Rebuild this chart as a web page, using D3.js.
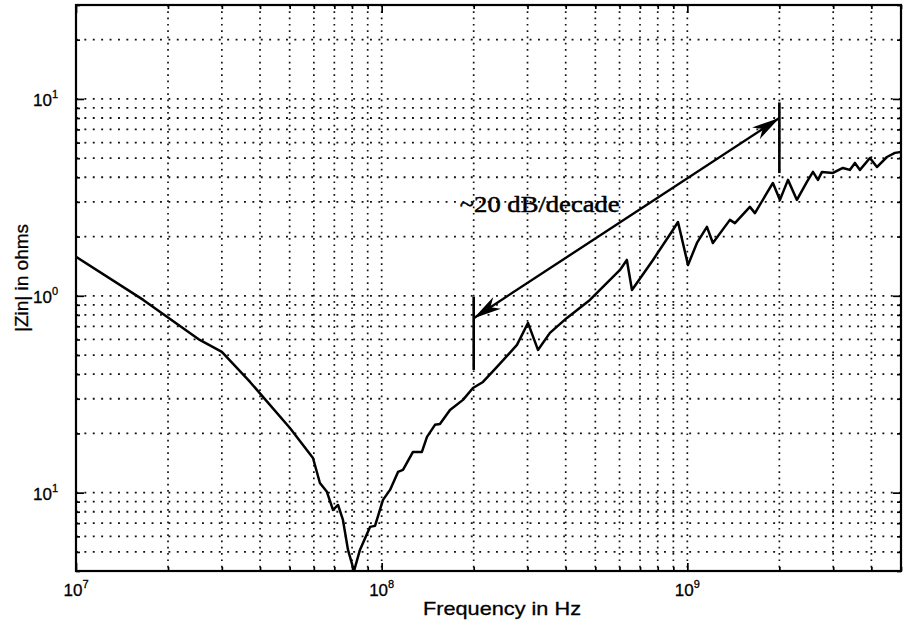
<!DOCTYPE html>
<html>
<head>
<meta charset="utf-8">
<script src="https://cdn.jsdelivr.net/npm/d3@7"></script>
<style>
  body { margin: 0; background: #fff; }
</style>
</head>
<body>
<div id="chart"></div>
<script>
// input impedance vs frequency
var freq = [1e7, 1.66e7, 2.54e7, 3.0e7, 3.71e7, 5.01e7, 5.96e7, 6.28e7, 6.62e7, 6.93e7,
  7.2e7, 7.47e7, 7.76e7, 8.12e7, 8.49e7, 9.16e7, 9.51e7, 1.01e8, 1.065e8, 1.131e8,
  1.174e8, 1.266e8, 1.354e8, 1.407e8, 1.494e8, 1.551e8, 1.673e8, 1.845e8, 1.989e8, 2.145e8,
  2.384e8, 2.771e8, 3.01e8, 3.246e8, 3.552e8, 4.037e8, 4.8e8, 6.02e8, 6.34e8, 6.59e8,
  7.72e8, 8.97e8, 9.32e8, 1.005e9, 1.075e9, 1.159e9, 1.212e9, 1.378e9, 1.431e9, 1.602e9,
  1.664e9, 1.821e9, 1.905e9, 2.009e9, 2.134e9, 2.283e9, 2.461e9, 2.576e9, 2.675e9, 2.757e9,
  2.995e9, 3.228e9, 3.4e9, 3.534e9, 3.67e9, 3.957e9, 4.171e9, 4.497e9, 4.776e9, 5e9];
var zin = [1.58, 0.953, 0.597, 0.519, 0.365, 0.213, 0.150, 0.112, 0.101, 0.0817,
  0.0866, 0.0727, 0.0512, 0.040, 0.0512, 0.067, 0.0678, 0.0919, 0.1033, 0.1274,
  0.1304, 0.161, 0.161, 0.192, 0.221, 0.223, 0.263, 0.296, 0.340, 0.365,
  0.435, 0.563, 0.728, 0.531, 0.648, 0.772, 0.953, 1.353, 1.521, 1.071,
  1.521, 2.16, 2.37, 1.434, 1.855, 2.24, 1.855, 2.43, 2.34, 2.83,
  2.63, 3.33, 3.74, 3.07, 3.88, 3.07, 3.79, 4.26, 3.88, 4.26,
  4.21, 4.46, 4.36, 4.73, 4.36, 5.01, 4.51, 5.07, 5.32, 5.38];

var xDomain = [1e7, 5e9],
    yDomain = [0.04, 30];
var xMajor = [1e7, 1e8, 1e9],
    xMajorExp = ["7", "8", "9"];
var yMajor = [0.1, 1, 10],
    yMajorExp = ["1", "0", "1"];

// slope annotation
var slopeFreq = [2e8, 2e9],
    slopeZ = [0.77, 8];
var markLow = [0.42, 4.2],
    markHigh = [0.99, 9.6];
var slopeText = "~20 dB/decade",
    slopeTextAt = [1.80e8, 2.67];

var xTitle = "Frequency in Hz",
    yTitle = "|Zin| in ohms";

var width = 904,
    height = 623,
    margin = { top: 5, right: 3, bottom: 52, left: 76 },
    w = width - margin.left - margin.right,
    h = height - margin.top - margin.bottom;

var svg = d3.select('#chart').append('svg')
    .attr('width', width)
    .attr('height', height)
    .style('background', '#fff');

var g = svg.append('g')
    .attr('transform', 'translate(' + margin.left + ',' + margin.top + ')');

var x = d3.scaleLog().domain(xDomain).range([0, w]),
    y = d3.scaleLog().domain(yDomain).range([h, 0]);

function minors(lo, hi) {
  var out = [];
  for (var e = Math.floor(Math.log10(lo)); e <= Math.ceil(Math.log10(hi)); e++) {
    for (var k = 1; k < 10; k++) {
      var v = k * Math.pow(10, e);
      if (v >= lo * 0.999 && v <= hi * 1.001) out.push(v);
    }
  }
  return out;
}
var xAll = minors(xDomain[0], xDomain[1]),
    yAll = minors(yDomain[0], yDomain[1]);
var xMinor = xAll.filter(function (v) { return xMajor.indexOf(v) < 0; }),
    yMinor = yAll.filter(function (v) { return yMajor.indexOf(v) < 0; });

// dotted grid
g.append('g').attr('class', 'grid')
  .selectAll('line').data(xAll.filter(function (v) { return v > xDomain[0]; }))
  .enter().append('line')
  .attr('x1', function (d) { return x(d); }).attr('x2', function (d) { return x(d); })
  .attr('y1', 0).attr('y2', h)
  .attr('stroke', '#111').attr('stroke-width', 1.7)
  .attr('stroke-dasharray', '1.7,4.6');
g.append('g').attr('class', 'grid')
  .selectAll('line').data(yAll.filter(function (v) { return v > yDomain[0]; }))
  .enter().append('line')
  .attr('x1', 0).attr('x2', w)
  .attr('y1', function (d) { return y(d); }).attr('y2', function (d) { return y(d); })
  .attr('stroke', '#111').attr('stroke-width', 1.8)
  .attr('stroke-dasharray', '1.9,6.5');

// ticks inside on all four sides
function tickAxis(axis, vals, size, tr) {
  var a = g.append('g').attr('transform', tr || null)
    .call(axis.tickValues(vals).tickSize(-size).tickFormat(''));
  a.select('.domain').remove();
  a.selectAll('.tick line').attr('stroke', '#000').attr('stroke-width', 1.7);
  return a;
}
tickAxis(d3.axisBottom(x), xMajor, 8, 'translate(0,' + h + ')');
tickAxis(d3.axisBottom(x), xMinor, 4, 'translate(0,' + h + ')');
tickAxis(d3.axisTop(x), xMajor, 8);
tickAxis(d3.axisTop(x), xMinor, 4);
tickAxis(d3.axisLeft(y), yMajor, 8);
tickAxis(d3.axisLeft(y), yMinor, 4);
tickAxis(d3.axisRight(y), yMajor, 8, 'translate(' + w + ',0)');
tickAxis(d3.axisRight(y), yMinor, 4, 'translate(' + w + ',0)');

// tick labels 10^n
var xl = g.append('g').selectAll('text').data(xMajor).enter().append('text')
  .attr('x', function (d) { return x(d); })
  .attr('y', h + 25)
  .attr('text-anchor', 'middle')
  .style('font-family', '"Liberation Sans", Arial, sans-serif')
  .style('font-size', '17px')
  .attr('stroke', '#000').attr('stroke-width', 0.3);
xl.append('tspan').text('10');
xl.append('tspan').attr('dy', -8).style('font-size', '11px')
  .text(function (d, i) { return xMajorExp[i]; });

var yl = g.append('g').selectAll('text').data(yMajor).enter().append('text')
  .attr('x', -18)
  .attr('y', function (d) { return y(d) + 7; })
  .attr('text-anchor', 'end')
  .style('font-family', '"Liberation Sans", Arial, sans-serif')
  .style('font-size', '17px')
  .attr('stroke', '#000').attr('stroke-width', 0.3);
yl.append('tspan').text('10');
yl.append('tspan').attr('dy', -8).style('font-size', '11px')
  .text(function (d, i) { return yMajorExp[i]; });

// curve
g.append('clipPath').attr('id', 'clip')
  .append('rect').attr('width', w).attr('height', h + 2).attr('y', -1);
var line = d3.line()
  .x(function (d, i) { return x(freq[i]); })
  .y(function (d) { return y(d); });
g.append('path')
  .datum(zin)
  .attr('clip-path', 'url(#clip)')
  .attr('d', line)
  .attr('fill', 'none')
  .attr('stroke', '#000')
  .attr('stroke-width', 2.5)
  .attr('stroke-linejoin', 'round');

// slope annotation: double arrow and end markers
var ax0 = x(slopeFreq[0]), ay0 = y(slopeZ[0]),
    ax1 = x(slopeFreq[1]), ay1 = y(slopeZ[1]);
g.append('line')
  .attr('x1', ax0).attr('y1', ay0).attr('x2', ax1).attr('y2', ay1)
  .attr('stroke', '#000').attr('stroke-width', 2.4);

function arrowHead(tx, ty, fx, fy) {
  var dx = tx - fx, dy = ty - fy, len = Math.sqrt(dx * dx + dy * dy),
      ux = dx / len, uy = dy / len, px = -uy, py = ux,
      L = 28, W = 7, N = 20;
  var pts = [[tx, ty],
    [tx - L * ux + W * px, ty - L * uy + W * py],
    [tx - N * ux, ty - N * uy],
    [tx - L * ux - W * px, ty - L * uy - W * py]];
  g.append('path').attr('d', d3.line()(pts) + 'Z').attr('fill', '#000');
}
arrowHead(ax1, ay1, ax0, ay0);
arrowHead(ax0, ay0, ax1, ay1);

g.selectAll('line.mark').data(slopeFreq).enter().append('line')
  .attr('class', 'mark')
  .attr('x1', function (d) { return x(d); }).attr('x2', function (d) { return x(d); })
  .attr('y1', function (d, i) { return y(markHigh[i]); })
  .attr('y2', function (d, i) { return y(markLow[i]); })
  .attr('stroke', '#000').attr('stroke-width', 2.6);

g.append('text')
  .attr('x', x(slopeTextAt[0]))
  .attr('y', y(slopeTextAt[1]))
  .attr('textLength', 160)
  .attr('lengthAdjust', 'spacingAndGlyphs')
  .attr('stroke', '#000').attr('stroke-width', 0.5)
  .style('font-family', '"Liberation Serif", "Times New Roman", serif')
  .style('font-size', '23px')
  .text(slopeText);

// frame
g.append('rect')
  .attr('width', w).attr('height', h)
  .attr('fill', 'none').attr('stroke', '#000').attr('stroke-width', 2.2);

// axis titles
svg.append('text')
  .attr('x', 423).attr('y', 615)
  .attr('textLength', 158)
  .attr('lengthAdjust', 'spacingAndGlyphs')
  .attr('stroke', '#000').attr('stroke-width', 0.3)
  .style('font-family', '"Liberation Sans", Arial, sans-serif')
  .style('font-size', '19px')
  .text(xTitle);

svg.append('text')
  .attr('transform', 'translate(28,' + 278 + ') rotate(-90)')
  .attr('text-anchor', 'middle')
  .attr('stroke', '#000').attr('stroke-width', 0.3)
  .style('font-family', '"Liberation Sans", Arial, sans-serif')
  .style('font-size', '19px')
  .text(yTitle);
</script>
</body>
</html>
